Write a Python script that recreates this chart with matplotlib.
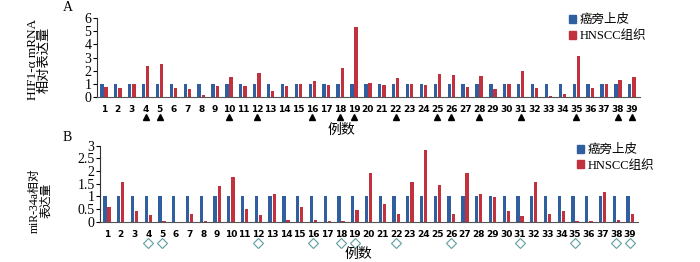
import matplotlib
matplotlib.use("Agg")
import matplotlib.pyplot as plt
import matplotlib.transforms as mtransforms
from matplotlib.patches import Patch
import numpy as np

plt.rcParams['font.family'] = ['Liberation Serif', 'Noto Sans CJK SC', 'DejaVu Sans']

cases = list(range(1, 40))
series_names = ["癌旁上皮", "HNSCC组织"]

hif_normal = [0.95] * 39
hif_tumor = [0.77, 0.7, 0.95, 2.35, 2.5, 0.7, 0.6, 0.1, 0.8, 1.5,
             0.8, 1.82, 0.45, 0.85, 0.95, 1.2, 0.92, 2.2, 5.3, 1.05,
             0.92, 1.45, 1.0, 0.92, 1.72, 1.68, 0.75, 1.6, 0.58, 1.0,
             2.0, 0.65, 0.05, 0.2, 3.1, 0.65, 0.97, 1.3, 1.5]

mir_normal = [1.0] * 39
mir_tumor = [0.57, 1.58, 0.41, 0.25, 0.02, 0.0, 0.32, 0.03, 1.41, 1.78,
             0.49, 0.27, 1.09, 0.08, 0.57, 0.07, 0.02, 0.03, 0.47, 1.93,
             0.68, 0.32, 1.57, 2.83, 1.45, 0.3, 1.93, 1.09, 0.96, 0.41,
             0.24, 1.57, 0.3, 0.43, 0.02, 0.01, 1.16, 0.05, 0.32]

hif_marked = [4, 5, 10, 12, 16, 18, 19, 22, 25, 26, 28, 31, 35, 38, 39]
mir_marked = [4, 5, 12, 16, 18, 19, 22, 26, 31, 35, 38, 39]

blue = '#2f5f9e'
red = '#c2313e'

fig = plt.figure(figsize=(7, 2.62), dpi=100)
axA = fig.add_axes([0.1386, 0.631, 0.775, 0.299])
axB = fig.add_axes([0.143, 0.154, 0.768, 0.290])

x = np.array(cases)
w = 0.24
off = 0.15

def style(ax, yticks, ylabels, ylim):
    ax.set_xlim(0.5, 39.55)
    ax.set_ylim(*ylim)
    ax.set_yticks(yticks)
    ax.set_yticklabels(ylabels, fontsize=10, family='Liberation Serif')
    ax.set_xticks(x)
    ax.set_xticklabels([str(c) for c in cases], fontsize=6.5, fontweight='bold',
                       family='DejaVu Sans')
    ax.tick_params(axis='x', length=0, pad=6)
    ax.tick_params(axis='y', length=3, pad=1, direction='out', width=0.8)
    for s in ['top', 'right']:
        ax.spines[s].set_visible(False)
    ax.spines['left'].set_color('#333333')
    ax.spines['bottom'].set_color('#555555')

legend_prop = {'family': ['Liberation Serif', 'Noto Sans CJK SC'], 'size': 9}

# Panel A
axA.bar(x - off, hif_normal, width=w, color=blue, label=series_names[0])
axA.bar(x + off, hif_tumor, width=w, color=red, label=series_names[1])
style(axA, [0, 1, 2, 3, 4, 5, 6], ['0', '1', '2', '3', '4', '5', '6'], (0, 6))
axA.set_ylabel("HIF1-α mRNA\n相对表达量", fontsize=9.5, linespacing=1.0)
axA.yaxis.set_label_coords(-0.085, 0.47)
transA = mtransforms.blended_transform_factory(axA.transData, axA.transAxes)
axA.plot(hif_marked, [-0.26] * len(hif_marked), linestyle='none', marker='^',
         color='black', markersize=4, transform=transA, clip_on=False)
axA.text(0.45, -0.425, "例数", transform=axA.transAxes, fontsize=10,
         family='Noto Sans CJK SC', ha='center', va='center')
axA.legend(handles=[Patch(color=blue), Patch(color=red)], labels=series_names,
           loc='upper left', bbox_to_anchor=(0.805, 0.965), bbox_transform=fig.transFigure,
           frameon=False, handlelength=0.6, handleheight=0.6,
           handletextpad=0.3, labelspacing=0.3, borderaxespad=0, prop=legend_prop)

# Panel B
axB.bar(x - off, mir_normal, width=w, color=blue, label=series_names[0])
axB.bar(x + off, mir_tumor, width=w, color=red, label=series_names[1])
style(axB, [0, 0.5, 1, 1.5, 2, 2.5, 3], ['0', '0.5', '1', '1.5', '2', '2.5', '3'], (0, 3))
axB.set_ylabel("miR-34a相对\n表达量", fontsize=8.5, linespacing=1.0)
axB.yaxis.set_label_coords(-0.089, 0.28)
transB = mtransforms.blended_transform_factory(axB.transData, axB.transAxes)
axB.plot(mir_marked, [-0.28] * len(mir_marked), linestyle='none', marker='D',
         markerfacecolor='white', markeredgecolor='#5f9ea0', markeredgewidth=0.8,
         markersize=5, transform=transB, clip_on=False)
axB.text(0.48, -0.43, "例数", transform=axB.transAxes, fontsize=10,
         family='Noto Sans CJK SC', ha='center', va='center')
axB.legend(handles=[Patch(color=blue), Patch(color=red)], labels=series_names,
           loc='upper left', bbox_to_anchor=(0.817, 0.47), bbox_transform=fig.transFigure,
           frameon=False, handlelength=0.6, handleheight=0.6,
           handletextpad=0.3, labelspacing=0.3, borderaxespad=0, prop=legend_prop)

fig.text(0.09, 0.995, "A", fontsize=10, va='top', family='Liberation Serif')
fig.text(0.09, 0.50, "B", fontsize=10, va='top', family='Liberation Serif')

fig.savefig("out.png", dpi=100)
